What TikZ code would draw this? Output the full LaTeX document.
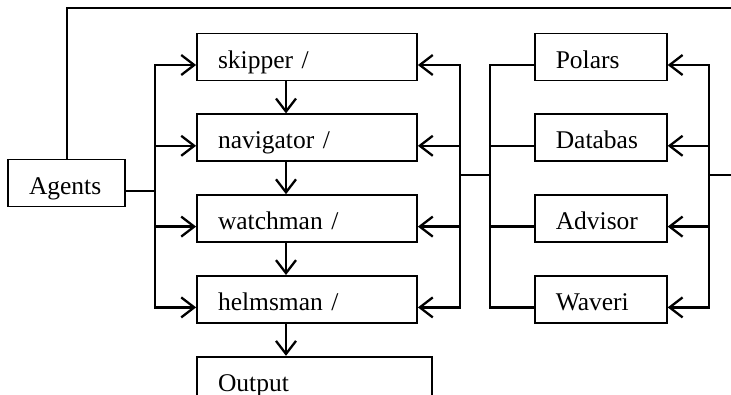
\documentclass[tikz,border=0pt]{standalone}
\usepackage{fontspec}
\setmainfont{Liberation Serif}
\usetikzlibrary{positioning, calc, arrows.meta}

\begin{document}
\begin{tikzpicture}[x=1pt, y=1pt,
    box/.style={draw, line width=1.8pt, inner xsep=21pt, inner ysep=0pt,
      text height=34.5pt, text depth=12.5pt, align=left,
      font=\fontsize{25.5}{30}\selectfont},
    crew/.style={box, text width=178pt},
    tool/.style={box, text width=90pt},
    wire/.style={line width=2.3pt},
    >={Straight Barb[length=13pt, width=20pt]}, node distance=32pt]

  \useasboundingbox (0,0) rectangle (731,-394);
  \clip (0,0) rectangle (731,-394);

  % agents and the crew column
  \node[box, text width=75pt] (agents) at (66.5,-183) {Agents};
  \node[crew] (skip) at (307,-57) {skipper /};
  \node[crew, below=of skip] (nav) {navigator /};
  \node[crew, below=of nav] (watch) {watchman /};
  \node[crew, below=of watch] (helm) {helmsman /};
  \node[box, text width=193pt, below right=32pt and 0pt of helm.south west] (output) {Output};

  % support modules on the right
  \node[tool, right=116pt of skip] (polars) {Polars};
  \node[tool, below=of polars] (db) {Databas};
  \node[tool, below=of db] (advisor) {Advisor};
  \node[tool, below=of advisor] (waves) {Waveri};

  \coordinate (lbus) at (460,-175);
  \coordinate (rbus) at (490,-175);
  \coordinate (ebus) at (709,-175);
  \coordinate (eout) at (731,-175);
  \coordinate (topend) at (731,-8);

  % agents feed every crew member
  \draw[wire] ([yshift=-8pt]agents.east) -- ++(29pt,0) coordinate (lfork);
  \foreach \n in {skip,nav,watch,helm}
    \draw[wire,->] (lfork) |- ([yshift=-8pt]\n.west);
  \draw[wire] ([xshift=0.5pt]agents.north) |- (topend);

  % hand-over down the column
  \draw[wire,->] ([xshift=-21pt]skip.south) -- ([xshift=-21pt]nav.north);
  \draw[wire,->] ([xshift=-21pt]nav.south) -- ([xshift=-21pt]watch.north);
  \draw[wire,->] ([xshift=-21pt]watch.south) -- ([xshift=-21pt]helm.north);
  \draw[wire,->] ([xshift=-21pt]helm.south) -- (output.north west -| {$(helm.south)+(-21pt,0)$});

  % modules back to the crew
  \foreach \n in {skip,nav,watch,helm}
    \draw[wire,->] (lbus) |- ([yshift=-8pt]\n.east);
  \draw[wire] (lbus) -- (rbus);
  \foreach \m in {polars,db,advisor,waves}
    \draw[wire] (rbus) |- ([yshift=-8pt]\m.west);

  % return line into the modules
  \foreach \m in {polars,db,advisor,waves}
    \draw[wire,->] (ebus) |- ([yshift=-8pt]\m.east);
  \draw[wire] (ebus) -- (eout);
\end{tikzpicture}
\end{document}
